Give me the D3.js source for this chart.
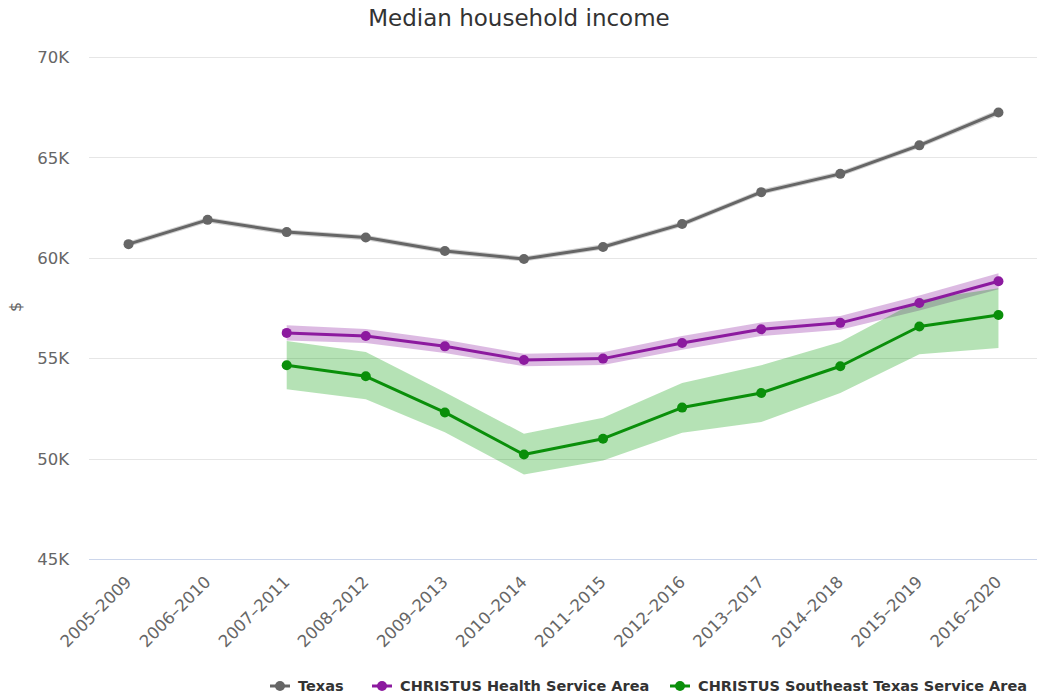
<!DOCTYPE html>
<html>
<head>
<meta charset="utf-8">
<script src="https://cdn.jsdelivr.net/npm/d3@7"></script>
<style>
  html, body { margin: 0; padding: 0; background: #fff; }
  svg { display: block; font-family: "DejaVu Sans", Verdana, sans-serif; }
</style>
</head>
<body>
<svg id="chart" width="1037" height="700"></svg>
<script>
// Five-year ACS periods
const periods = ["2005–2009", "2006–2010", "2007–2011", "2008–2012", "2009–2013", "2010–2014",
                 "2011–2015", "2012–2016", "2013–2017", "2014–2018", "2015–2019", "2016–2020"];

// Median household income estimates ($), with margin-of-error bounds
const texas      = [60680, 61890, 61280, 61010, 60340, 59940, 60540, 61680, 63270, 64180, 65600, 67240];
const texasLow   = [60550, 61760, 61150, 60880, 60210, 59810, 60410, 61550, 63140, 64050, 65470, 67090];
const texasHigh  = [60810, 62020, 61410, 61140, 60470, 60070, 60670, 61810, 63400, 64310, 65730, 67390];

const health     = [null, null, 56260, 56110, 55590, 54910, 54980, 55760, 56440, 56760, 57750, 58830];
const healthLow  = [null, null, 55880, 55760, 55260, 54600, 54660, 55420, 56100, 56420, 57380, 58430];
const healthHigh = [null, null, 56640, 56460, 55920, 55220, 55300, 56100, 56780, 57100, 58120, 59230];

const southeast     = [null, null, 54650, 54100, 52300, 50200, 50990, 52540, 53270, 54600, 56580, 57150];
const southeastLow  = [null, null, 53450, 52950, 51310, 49210, 49910, 51290, 51820, 53270, 55200, 55510];
const southeastHigh = [null, null, 55860, 55310, 53300, 51240, 52040, 53760, 54650, 55810, 57900, 58480];

const yTicks = [45000, 50000, 55000, 60000, 65000, 70000];

const seriesNames  = ["Texas", "CHRISTUS Health Service Area", "CHRISTUS Southeast Texas Service Area"];
const seriesColors = ["#666666", "#8c1a9f", "#0a8f0a"];
const bandColors   = ["rgba(102,102,102,0.3)", "rgba(140,26,159,0.3)", "rgba(10,160,10,0.3)"];

const series = [
  { name: seriesNames[0], color: seriesColors[0], band: bandColors[0], v: texas, lo: texasLow, hi: texasHigh },
  { name: seriesNames[1], color: seriesColors[1], band: bandColors[1], v: health, lo: healthLow, hi: healthHigh },
  { name: seriesNames[2], color: seriesColors[2], band: bandColors[2], v: southeast, lo: southeastLow, hi: southeastHigh }
];

const svg = d3.select("#chart");
const plot = { left: 89, right: 1038, top: 57, bottom: 559 };

const x = d3.scaleBand().domain(periods).range([plot.left, plot.right]);
const xc = d => x(d) + x.bandwidth() / 2;
const y = d3.scaleLinear().domain([45000, 70000]).range([plot.bottom, plot.top]);

// Title
svg.append("text")
  .attr("x", 519).attr("y", 26)
  .attr("text-anchor", "middle")
  .attr("fill", "#333333")
  .style("font-size", "23px")
  .text("Median household income");

// Horizontal grid
svg.append("g")
  .selectAll("line")
  .data(yTicks.filter(t => t !== 45000))
  .join("line")
  .attr("x1", plot.left).attr("x2", plot.right)
  .attr("y1", d => Math.round(y(d)) + 0.5).attr("y2", d => Math.round(y(d)) + 0.5)
  .attr("stroke", "#e6e6e6").attr("stroke-width", 1);

// Y axis labels
const yAxis = d3.axisLeft(y).tickValues(yTicks).tickFormat(d => (d / 1000) + "K").tickSize(0).tickPadding(0);
const yg = svg.append("g").attr("transform", `translate(${plot.left - 20},0)`).call(yAxis);
yg.select(".domain").remove();
yg.selectAll("text").attr("fill", "#666666").style("font-size", "16.5px")
  .style("font-family", "'DejaVu Sans', Verdana, sans-serif").attr("dy", "0.35em");

// Y axis title
svg.append("text")
  .attr("transform", "translate(21,307) rotate(-90)")
  .attr("text-anchor", "middle")
  .attr("fill", "#666666")
  .style("font-size", "16px")
  .text("$");

// X axis line
svg.append("line")
  .attr("x1", plot.left).attr("x2", plot.right)
  .attr("y1", Math.round(y(45000)) + 0.5).attr("y2", Math.round(y(45000)) + 0.5)
  .attr("stroke", "#ccd6eb").attr("stroke-width", 1);

// X axis labels
const xAxis = d3.axisBottom(x).tickSize(0).tickPadding(0);
const xg = svg.append("g").attr("transform", `translate(0,${plot.bottom})`).call(xAxis);
xg.select(".domain").remove();
xg.selectAll("text")
  .attr("fill", "#666666")
  .style("font-size", "16.5px")
  .style("font-family", "'DejaVu Sans', Verdana, sans-serif")
  .attr("text-anchor", "end")
  .attr("dy", null)
  .attr("y", 0)
  .attr("transform", "translate(4,24) rotate(-45)");

// Bands, lines and markers
const area = d3.area()
  .defined(d => d.lo != null)
  .x(d => xc(d.p)).y0(d => y(d.lo)).y1(d => y(d.hi));
const line = d3.line().defined(d => d.v != null).x(d => xc(d.p)).y(d => y(d.v));

const bandLayer = svg.append("g");
const lineLayer = svg.append("g");

series.forEach(s => {
  const pts = periods.map((p, i) => ({ p, v: s.v[i], lo: s.lo[i], hi: s.hi[i] }));
  bandLayer.append("path").datum(pts).attr("d", area).attr("fill", s.band);
  lineLayer.append("path").datum(pts).attr("d", line)
    .attr("fill", "none").attr("stroke", s.color).attr("stroke-width", 3)
    .attr("stroke-linejoin", "round");
  lineLayer.append("g").selectAll("circle")
    .data(pts.filter(d => d.v != null))
    .join("circle")
    .attr("cx", d => xc(d.p)).attr("cy", d => y(d.v)).attr("r", 5)
    .attr("fill", s.color);
});

// Legend
const legendItems = [
  { x: 270, tx: 298 },
  { x: 372, tx: 400 },
  { x: 670, tx: 698 }
];
const lg = svg.append("g");
series.forEach((s, i) => {
  const g = lg.append("g");
  g.append("line").attr("x1", legendItems[i].x).attr("x2", legendItems[i].x + 20)
    .attr("y1", 686).attr("y2", 686).attr("stroke", s.color).attr("stroke-width", 3);
  g.append("circle").attr("cx", legendItems[i].x + 10).attr("cy", 686).attr("r", 5).attr("fill", s.color);
  g.append("text").attr("x", legendItems[i].tx).attr("y", 691)
    .attr("fill", "#333333").style("font-size", "14.5px").style("font-weight", "bold")
    .text(s.name);
});
</script>
</body>
</html>
